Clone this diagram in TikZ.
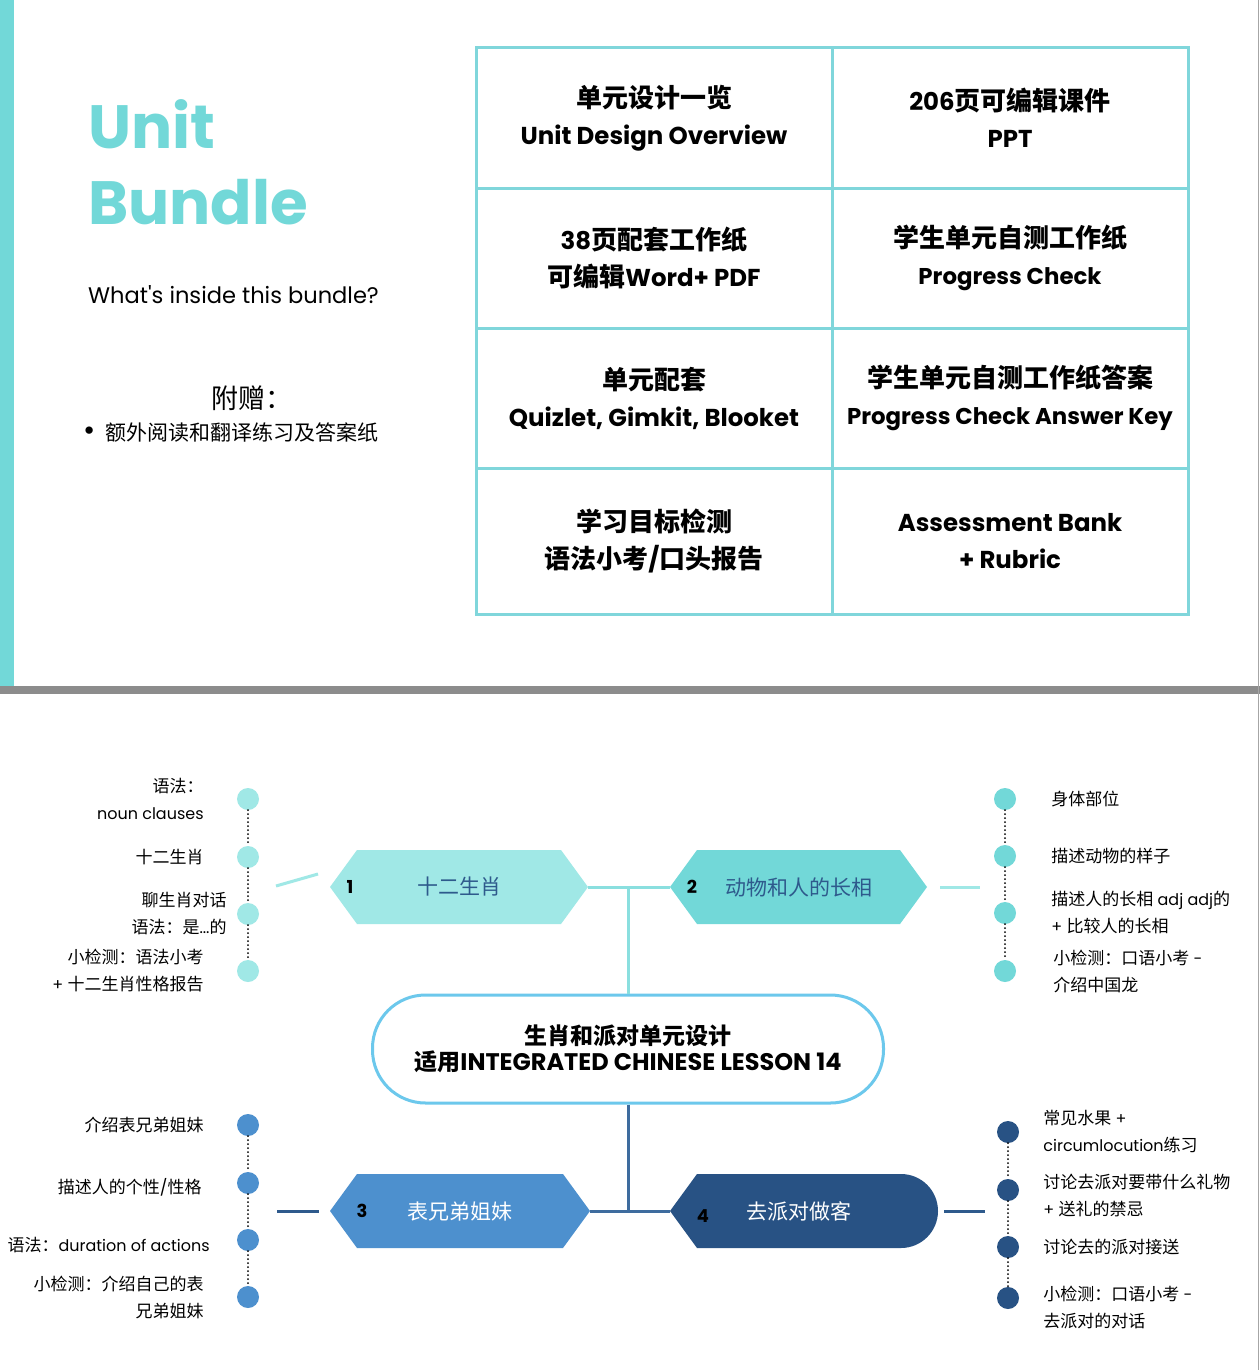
\documentclass[tikz,border=0pt]{standalone}
\usepackage{fontspec}
\setmainfont{Poppins}[Scale=0.94,Ligatures=TeXOff]
\newfontfamily\cjkfam{Noto Sans CJK SC}
\usetikzlibrary{positioning}

% switch to the CJK face on Chinese characters
\XeTeXinterchartokenstate=1
\newXeTeXintercharclass\cjkcls
\newcount\cjkcp
\def\cjkrange#1#2{\cjkcp=#1\relax
  \loop\XeTeXcharclass\cjkcp=\cjkcls\advance\cjkcp by 1\relax\ifnum\cjkcp<#2\relax\repeat}
\cjkrange{"3000}{"3040}
\cjkrange{"4E00}{"A000}
\cjkrange{"FF00}{"FFF0}
\XeTeXinterchartoks 0 \cjkcls = {\cjkfam}
\XeTeXinterchartoks 4095 \cjkcls = {\cjkfam}
\XeTeXinterchartoks \cjkcls 0 = {\rmfamily}
\XeTeXinterchartoks \cjkcls 4095 = {\rmfamily}

\definecolor{bundleteal}{HTML}{72D8D8}
\definecolor{gridteal}{HTML}{80D6DB}
\definecolor{paleteal}{HTML}{A0E8E6}
\definecolor{stemteal}{HTML}{8ADFDF}
\definecolor{midblue}{HTML}{4D90CE}
\definecolor{partynavy}{HTML}{285284}
\definecolor{stemblue}{HTML}{3E6C9E}
\definecolor{coreblue}{HTML}{6CC8EC}
\definecolor{hexink}{HTML}{2E5A8C}
\definecolor{bandgray}{HTML}{8C8C8C}

\newcommand{\tighter}{\fontsize{24.3}{37}\selectfont}

\begin{document}
\begin{tikzpicture}[x=1pt,y=-1pt,
  cell/.style={draw=gridteal,line width=3pt,minimum width=356pt,minimum height=140pt,inner sep=0pt,outer sep=0pt,align=center,font=\bfseries\fontsize{26}{37}\selectfont},
  hexbox/.style={minimum width=258pt,minimum height=74pt,inner sep=0pt,outer sep=0pt,font=\fontsize{21}{24}\selectfont,
    path picture={\fill[#1] (path picture bounding box.west) -- ([xshift=27pt]path picture bounding box.north west) -- ([xshift=-27pt]path picture bounding box.north east) -- (path picture bounding box.east) -- ([xshift=-27pt]path picture bounding box.south east) -- ([xshift=27pt]path picture bounding box.south west) -- cycle;}},
  partybox/.style={minimum width=268pt,minimum height=74pt,inner sep=0pt,outer sep=0pt,font=\fontsize{21}{24}\selectfont,
    path picture={\fill[#1] (path picture bounding box.west) -- ([xshift=27pt]path picture bounding box.north west) -- ([xshift=-37pt]path picture bounding box.north east) arc[start angle=90,end angle=-90,radius=37pt] -- ([xshift=27pt]path picture bounding box.south west) -- cycle;}},
  num/.style={inner sep=0pt,font=\bfseries\fontsize{19}{22}\selectfont},
  dot/.style={circle,fill=#1,minimum size=22pt,inner sep=0pt},
  dotline/.style={line width=2pt,dash pattern=on 0pt off 4pt,line cap=round},
  lbl/.style={inner sep=0pt,font=\fontsize{17}{27}\selectfont},
  stem/.style={line width=3pt,#1}]

\fill[white] (0,0) rectangle (1260,1370);
\useasboundingbox (0,0) rectangle (1260,1370);

% top panel
\fill[bundleteal] (0,0) rectangle (14,688);
\fill[bandgray] (0,686) rectangle (1260,694);
\draw[black!35,line width=1pt] (1258.5,0) -- (1258.5,1370);

\node[anchor=west,inner sep=0pt,align=left,text=bundleteal,font=\bfseries\fontsize{65}{76}\selectfont] (title) at (88,162) {Unit\\Bundle};
\node[anchor=west,inner sep=0pt,font=\fontsize{24}{28}\selectfont] (inside) at (88,295) {What's inside this bundle?};
\node[inner sep=0pt,font=\fontsize{27}{30}\selectfont] (gift) at (252,398) {附赠：};
\node[anchor=west,inner sep=0pt,font=\fontsize{21}{24}\selectfont] (extra) at (83,433) {\scalebox{1.5}{\textbullet}\enspace 额外阅读和翻译练习及答案纸};

\node[cell] (c11) at (654,118) {单元设计一览\\Unit Design Overview};
\node[cell,right=0pt of c11] (c12) {206页可编辑课件\\PPT};
\node[cell,below=0pt of c11] (c21) {38页配套工作纸\\可编辑Word+ PDF};
\node[cell,right=0pt of c21] (c22) {学生单元自测工作纸\\{\tighter Progress Check}};
\node[cell,below=0pt of c21] (c31) {单元配套\\Quizlet, Gimkit, Blooket};
\node[cell,right=0pt of c31] (c32) {学生单元自测工作纸答案\\{\tighter Progress Check Answer Key}};
\node[cell,below=0pt of c31,minimum height=146pt] (c41) {学习目标检测\\语法小考/口头报告};
\node[cell,right=0pt of c41,minimum height=146pt] (c42) {Assessment Bank\\+ Rubric};

% unit map
\node[draw=coreblue,line width=3pt,rounded corners=53pt,minimum width=511pt,minimum height=108pt,align=center,
  font=\bfseries\fontsize{23}{26}\selectfont] (core) at (628,1049) {生肖和派对单元设计\\适用{\rmfamily\fontsize{25.5}{26}\selectfont INTEGRATED CHINESE LESSON 14}};

\node[hexbox=paleteal,text=hexink] (h1) at (459,887) {十二生肖};
\node[hexbox=bundleteal,text=hexink,minimum width=257pt] (h2) at (798.5,887) {动物和人的长相};
\node[hexbox=midblue,text=white,minimum width=260pt] (h3) at (460,1211) {表兄弟姐妹};
\node[partybox=partynavy,text=white] (h4) at (804,1211) {去派对做客\rule{10pt}{0pt}};

\node[num] (n1) at ([xshift=20pt]h1.west) {1};
\node[num] (n2) at ([xshift=22pt]h2.west) {2};
\node[num] (n3) at ([xshift=32pt]h3.west) {3};
\node[num] (n4) at ([xshift=33pt,yshift=-5pt]h4.west) {4};

\draw[stem=stemteal] (h1.east) -- (h2.west);
\draw[stem=stemteal] (core.north) -- (core.north |- h1.east);
\draw[stem=stemblue] (h3.east) -- (h4.west);
\draw[stem=stemblue] (core.south) -- (core.south |- h3.east);

% zodiac
\node[dot=paleteal] (d11) at (248,799) {};
\node[dot=paleteal] (d12) at (248,857) {};
\node[dot=paleteal] (d13) at (248,914) {};
\node[dot=paleteal] (d14) at (248,971) {};
\draw[dotline] (d11) -- (d12) -- (d13) -- (d14);
\coordinate (z1) at ([xshift=-54pt,yshift=1pt]h1.west);
\coordinate (z2) at ([xshift=-12pt,yshift=13pt]h1.west);
\draw[stem=paleteal] (z1) -- (z2);
\node[lbl,left=33pt of d11,align=right] {语法：\\noun clauses};
\node[lbl,left=33pt of d12] {十二生肖};
\node[lbl,left=10pt of d13,align=right] {聊生肖对话\\语法：是...的};
\node[lbl,left=33pt of d14,align=right] {小检测：语法小考\\+ 十二生肖性格报告};

% looks
\node[dot=bundleteal] (d21) at (1005,799) {};
\node[dot=bundleteal] (d22) at (1005,856) {};
\node[dot=bundleteal] (d23) at (1005,913) {};
\node[dot=bundleteal] (d24) at (1005,971) {};
\draw[dotline] (d21) -- (d22) -- (d23) -- (d24);
\coordinate (a1) at ([xshift=13pt]h2.east);
\coordinate (a2) at ([xshift=53pt]h2.east);
\draw[stem=paleteal] (a1) -- (a2);
\node[lbl,right=35pt of d21] {身体部位};
\node[lbl,right=35pt of d22] {描述动物的样子};
\node[lbl,right=35pt of d23,align=left] {描述人的长相 adj adj的\\+ 比较人的长相};
\node[lbl,right=37pt of d24,align=left] {小检测：口语小考 -\\介绍中国龙};

% cousins
\node[dot=midblue] (d31) at (248,1125) {};
\node[dot=midblue] (d32) at (248,1183) {};
\node[dot=midblue] (d33) at (248,1240) {};
\node[dot=midblue] (d34) at (248,1297) {};
\draw[dotline] (d31) -- (d32) -- (d33) -- (d34);
\coordinate (b1) at ([xshift=-53pt]h3.west);
\coordinate (b2) at ([xshift=-11pt]h3.west);
\draw[stem=hexink] (b1) -- (b2);
\node[lbl,left=33pt of d31] {介绍表兄弟姐妹};
\node[lbl,left=35pt of d32,yshift=-4pt] {描述人的个性/性格};
\node[lbl,left=27pt of d33,yshift=-5pt] {语法：duration of actions};
\node[lbl,left=33pt of d34,align=right] {小检测：介绍自己的表\\兄弟姐妹};

% party
\node[dot=partynavy] (d41) at (1008,1132) {};
\node[dot=partynavy] (d42) at (1008,1190) {};
\node[dot=partynavy] (d43) at (1008,1247) {};
\node[dot=partynavy] (d44) at (1008,1298) {};
\draw[dotline] (d41) -- (d42) -- (d43) -- (d44);
\coordinate (p1) at ([xshift=6pt]h4.east);
\coordinate (p2) at ([xshift=47pt]h4.east);
\draw[stem=hexink] (p1) -- (p2);
\node[lbl,right=24pt of d41,align=left] {常见水果 +\\circumlocution练习};
\node[lbl,right=24pt of d42,align=left,yshift=-6pt] {讨论去派对要带什么礼物\\+ 送礼的禁忌};
\node[lbl,right=24pt of d43] {讨论去的派对接送};
\node[lbl,right=24pt of d44,align=left,yshift=-10pt] {小检测：口语小考 -\\去派对的对话};
\end{tikzpicture}
\end{document}
